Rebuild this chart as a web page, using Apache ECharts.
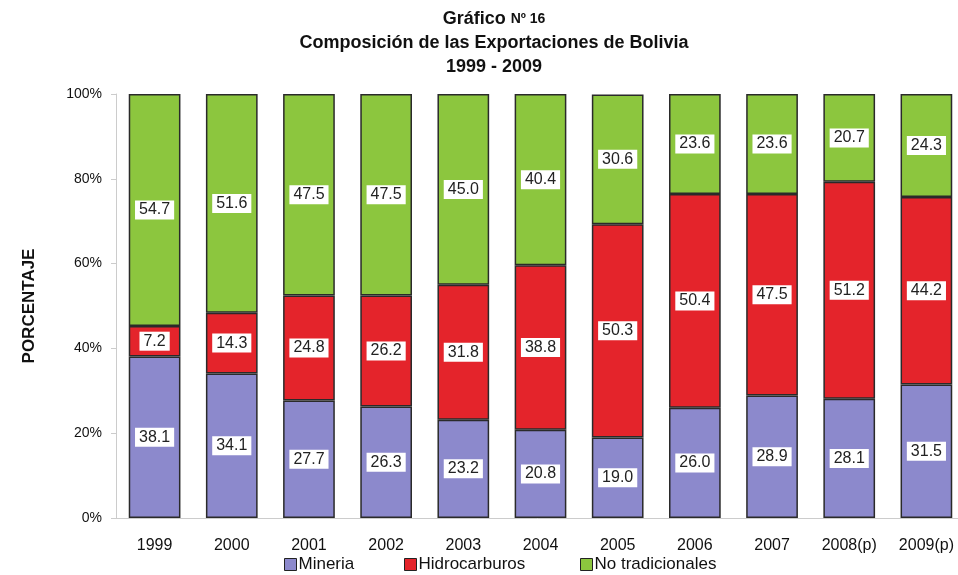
<!DOCTYPE html>
<html>
<head>
<meta charset="utf-8">
<script src="https://cdn.jsdelivr.net/npm/echarts@6/dist/echarts.min.js"></script>
<style>
  html, body { margin: 0; padding: 0; background: #fff; }
  #chart { width: 958px; height: 575px; }
</style>
</head>
<body>
<div id="chart"></div>
<script>
// datos del gráfico
var years = ["1999", "2000", "2001", "2002", "2003", "2004", "2005", "2006", "2007", "2008(p)", "2009(p)"];
var mineria = [38.1, 34.1, 27.7, 26.3, 23.2, 20.8, 19.0, 26.0, 28.9, 28.1, 31.5];
var hidrocarburos = [7.2, 14.3, 24.8, 26.2, 31.8, 38.8, 50.3, 50.4, 47.5, 51.2, 44.2];
var noTradicionales = [54.7, 51.6, 47.5, 47.5, 45.0, 40.4, 30.6, 23.6, 23.6, 20.7, 24.3];
var yTicks = [0, 20, 40, 60, 80, 100];
var nombres = ["Mineria", "Hidrocarburos", "No tradicionales"];

var chart = echarts.init(document.getElementById("chart"));

// etiqueta blanca en el centro de cada segmento
var etiqueta = {
  show: true,
  position: "inside",
  formatter: function (p) { return p.value.toFixed(1); },
  backgroundColor: "#fff",
  color: "#222",
  fontFamily: "Liberation Sans, Arial, sans-serif",
  fontSize: 16,
  padding: [2, 4, 1, 4]
};

function serie(nombre, datos, color) {
  return {
    name: nombre,
    type: "bar",
    stack: "total",
    data: datos,
    barWidth: "67%",
    itemStyle: { color: color, borderColor: "#2a2a2a", borderWidth: 1.5 },
    label: etiqueta
  };
}

// una leyenda por serie para colocarlas como en el original
var leyendaX = [284, 404, 580];
var leyendas = nombres.map(function (n, i) {
  return {
    top: 556,
    left: leyendaX[i],
    padding: 0,
    itemWidth: 12,
    itemHeight: 12,
    icon: "rect",
    textStyle: { fontSize: 17, color: "#111", padding: [0, 0, 0, -3] },
    data: [{ name: n, itemStyle: { borderColor: "#222", borderWidth: 1 } }]
  };
});

chart.setOption({
  textStyle: { fontFamily: "Liberation Sans, Arial, sans-serif" },
  title: {
    text: "Gráfico {s|Nº 16}\nComposición de las Exportaciones de Bolivia\n1999 - 2009",
    left: 489,
    textAlign: "center",
    top: 2,
    textStyle: {
      fontSize: 18,
      fontWeight: "bold",
      color: "#111",
      lineHeight: 24,
      rich: { s: { fontSize: 14, fontWeight: "bold", color: "#111" } }
    }
  },
  legend: leyendas,
  grid: { left: 116, width: 849, top: 94, bottom: 57, outerBoundsMode: "none" },
  xAxis: {
    type: "category",
    data: years,
    axisLine: { lineStyle: { color: "#ccc" } },
    axisTick: { show: false },
    axisLabel: { color: "#111", fontSize: 16, margin: 20 }
  },
  yAxis: {
    type: "value",
    min: 0,
    max: 100,
    interval: 20,
    name: "PORCENTAJE",
    nameLocation: "middle",
    nameGap: 78,
    nameTextStyle: { fontWeight: "bold", fontSize: 17, color: "#111" },
    axisLine: { show: true, lineStyle: { color: "#ccc" } },
    axisTick: { show: true, length: 5, lineStyle: { color: "#ccc" } },
    splitLine: { show: false },
    axisLabel: {
      color: "#111",
      fontSize: 14,
      margin: 14,
      formatter: function (v) { return yTicks.indexOf(v) >= 0 ? v + "%" : ""; }
    }
  },
  series: [
    serie(nombres[0], mineria, "#8c89cc"),
    serie(nombres[1], hidrocarburos, "#e4242b"),
    serie(nombres[2], noTradicionales, "#8cc63e")
  ]
});
</script>
</body>
</html>
